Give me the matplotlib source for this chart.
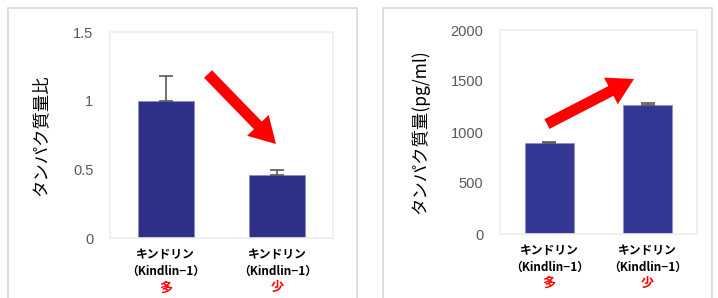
import matplotlib.pyplot as plt
from matplotlib.patches import Rectangle, FancyArrow
from matplotlib.transforms import IdentityTransform, blended_transform_factory

plt.rcParams['font.family'] = ['Noto Sans CJK JP', 'DejaVu Sans']

categories = ['キンドリン', 'キンドリン']
subnames = ['（Kindlin−1）', '（Kindlin−1）']
levels = ['多', '少']

ratio_vals = [1.0, 0.46]
ratio_err = [0.18, 0.035]
ratio_ticks = [0, 0.5, 1, 1.5]
ratio_ticklabels = ['0', '0.5', '1', '1.5']

conc_vals = [895, 1265]
conc_err = [6, 22]
conc_ticks = [0, 500, 1000, 1500, 2000]

W, H = 718, 298
fig = plt.figure(figsize=(W / 100, H / 100), dpi=100)


def px_axes(x0, y0, x1, y1):
    # image pixel box (top-left origin) -> axes
    return fig.add_axes([x0 / W, 1 - y1 / H, (x1 - x0) / W, (y1 - y0) / H])


def arrow_px(x0, y0, x1, y1):
    a = FancyArrow(x0, H - y0, x1 - x0, -(y1 - y0), width=11, head_width=30,
                   head_length=26, length_includes_head=True, color='#FF0000',
                   lw=0, transform=IdentityTransform())
    fig.patches.append(a)


# outer chart frames
for (x0, y0, x1, y1) in [(8, 8, 357, 305), (383, 8, 712, 305)]:
    fig.patches.append(Rectangle((x0 / W, 1 - y1 / H), (x1 - x0) / W, (y1 - y0) / H,
                                 transform=fig.transFigure, fill=False,
                                 ec='#D9D9D9', lw=1.2))


def draw_panel(ax, vals, err, color, ylim, ticks, ticklabels, ylabel):
    x = range(len(vals))
    ax.bar(x, vals, width=0.5, color=color, edgecolor='#8C8DC8', linewidth=0.6,
           zorder=2)
    ax.errorbar(x, vals, yerr=[[0] * len(err), err], fmt='none', ecolor='#595959',
                elinewidth=1.2, capsize=5, capthick=1.2, zorder=3)
    ax.set_xlim(-0.5, len(vals) - 0.5)
    ax.set_ylim(*ylim)
    ax.set_yticks(ticks)
    ax.set_yticklabels(ticklabels, family=['Liberation Sans', 'DejaVu Sans'],
                       fontsize=10.5, color='#595959')
    ax.set_xticks([])
    ax.tick_params(axis='y', length=0, pad=12)
    for s in ax.spines.values():
        s.set_color('#EDEDED')
        s.set_linewidth(1.2)
    ax.set_ylabel(ylabel, fontsize=12.5, color='#000000')
    tr = blended_transform_factory(ax.transData, ax.transAxes)
    for i in x:
        ax.text(i, -0.05, categories[i], transform=tr, ha='center', va='top',
                fontsize=8.5, fontweight='bold', color='black')
        ax.text(i, -0.13, subnames[i], transform=tr, ha='center', va='top',
                fontsize=8.5, fontweight='bold', color='black')
        ax.text(i, -0.205, levels[i], transform=tr, ha='center', va='top',
                fontsize=9.5, fontweight='bold', color='#FF0000')


ax1 = px_axes(110, 32, 333, 238)
draw_panel(ax1, ratio_vals, ratio_err, '#2E3087', (0, 1.5), ratio_ticks,
           ratio_ticklabels, 'タンパク質量比')
ax1.yaxis.set_label_coords(-0.27, 0.5)

ax2 = px_axes(500, 30, 697, 234)
draw_panel(ax2, conc_vals, conc_err, '#353795', (0, 2000), conc_ticks,
           [str(t) for t in conc_ticks], 'タンパク質量(pg/ml)')
ax2.yaxis.set_label_coords(-0.36, 0.5)

arrow_px(208, 74, 276, 144)
arrow_px(547, 124, 634, 79)

fig.savefig('out.png', dpi=100)
